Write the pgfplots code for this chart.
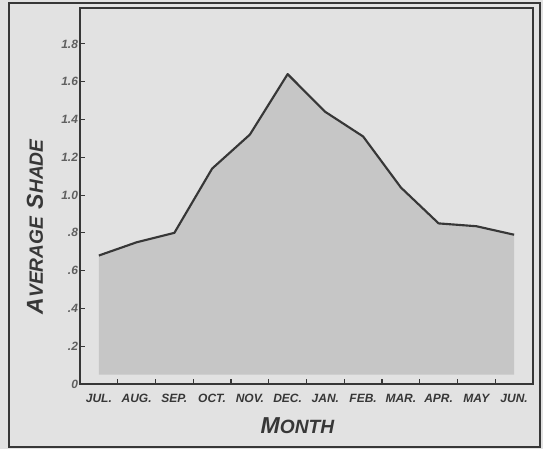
\documentclass[border=0pt]{standalone}
\usepackage{pgfplots}
\pgfplotsset{compat=1.18}
\usetikzlibrary{backgrounds}
\usepackage{fontspec}
\setmainfont{Liberation Sans}
\definecolor{bg}{RGB}{226,226,226}
\definecolor{ink}{RGB}{55,55,55}
\definecolor{tickc}{RGB}{95,95,95}
\definecolor{fillc}{RGB}{198,198,198}
\begin{document}
\begin{tikzpicture}
\begin{axis}[
  scale only axis, width=339.75pt, height=282pt,
  xmin=0, xmax=12, ymin=0, ymax=1.99,
  axis line style={ink, line width=1.5pt},
  xtick pos=bottom, ytick pos=left,
  xtick={0.5,1.5,2.5,3.5,4.5,5.5,6.5,7.5,8.5,9.5,10.5,11.5},
  xticklabels={JUL., AUG., SEP., OCT., NOV., DEC., JAN., FEB., MAR., APR., MAY, JUN.},
  major x tick style={draw=none},
  minor xtick={1,2,3,4,5,6,7,8,9,10,11},
  minor x tick style={ink, line width=0.8pt},
  minor tick length=3.5pt,
  ytick={0,0.2,0.4,0.6,0.8,1.0,1.2,1.4,1.6,1.8},
  yticklabels={0,.2,.4,.6,.8,1.0,1.2,1.4,1.6,1.8},
  y tick style={ink, line width=0.8pt},
  major tick length=3.5pt,
  tick align=inside,
  x tick label style={font=\small\bfseries\itshape, text=ink, yshift=-4pt},
  y tick label style={font=\small\bfseries\itshape, text=tickc, xshift=2pt},
  every axis x label/.style={at={(rel axis cs:0.48,0)}, anchor=center, yshift=-31.5pt, font=\bfseries\itshape, text=ink},
  every axis y label/.style={at={(rel axis cs:0,0.418)}, anchor=center, rotate=90, yshift=33.75pt, font=\bfseries\itshape, text=ink},
  xlabel={{\LARGE M}{\Large ONTH}},
  ylabel={{\LARGE A}{\Large VERAGE}\ \ {\LARGE S}{\Large HADE}},
]
\addplot[fill=fillc, draw=none] coordinates {
  (0.5,0.05) (0.5,0.68) (1.5,0.75) (2.5,0.80) (3.5,1.14) (4.5,1.32) (5.5,1.64)
  (6.5,1.44) (7.5,1.31) (8.5,1.04) (9.5,0.85) (10.5,0.835) (11.5,0.79) (11.5,0.05)
} -- cycle;
\addplot[ink, line width=1.6pt, line join=round] coordinates {
  (0.5,0.68) (1.5,0.75) (2.5,0.80) (3.5,1.14) (4.5,1.32) (5.5,1.64)
  (6.5,1.44) (7.5,1.31) (8.5,1.04) (9.5,0.85) (10.5,0.835) (11.5,0.79)
};
\end{axis}
\begin{scope}[on background layer]
\fill[bg] ([shift={(-60pt,-48.75pt)}]current axis.south west) rectangle ([shift={(347.25pt,288pt)}]current axis.south west);
\end{scope}
\draw[ink, line width=1.5pt] ([shift={(-53.25pt,-47.25pt)}]current axis.south west) rectangle ([shift={(345pt,285.75pt)}]current axis.south west);
\pgfresetboundingbox
\path[use as bounding box] ([shift={(-60pt,-48.75pt)}]current axis.south west) rectangle ([shift={(347.25pt,288pt)}]current axis.south west);
\end{tikzpicture}
\end{document}
